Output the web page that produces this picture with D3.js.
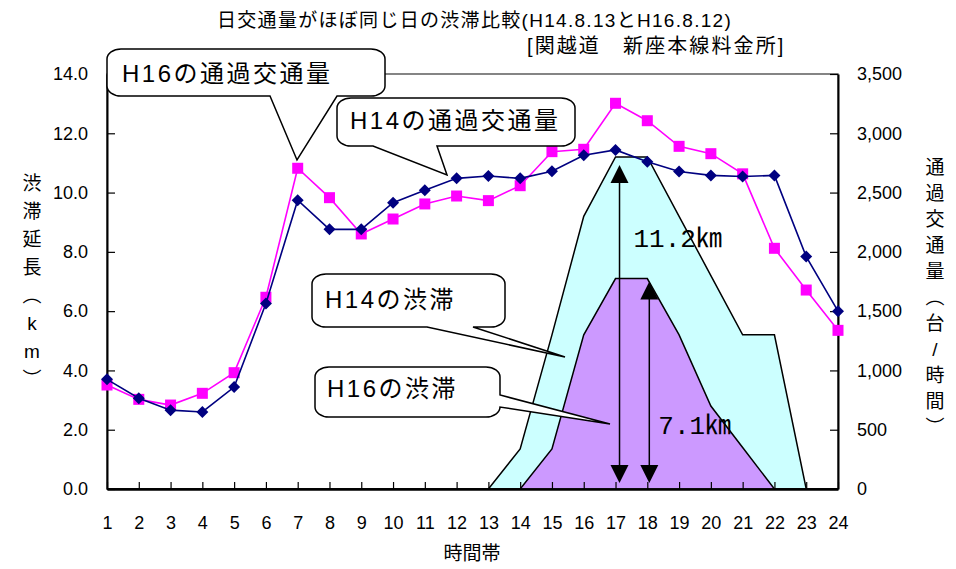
<!DOCTYPE html>
<html>
<head>
<meta charset="utf-8">
<style>
  body { margin: 0; background: #fff; }
  svg text { font-family: "Liberation Sans", Arial, "Noto Sans CJK JP", sans-serif; fill: #000; }
  .jp { font-family: "Liberation Sans", "Noto Sans CJK JP", sans-serif; }
  .axis text { font-size: 18px; }
  .axis line { stroke: #000; stroke-width: 1.2; }
  .axis path { stroke: #000; stroke-width: 2; }
</style>
</head>
<body>
<script src="https://cdn.jsdelivr.net/npm/d3@7/dist/d3.min.js"></script>
<script>
// hours of the day (category labels)
var hours = [1, 2, 3, 4, 5, 6, 7, 8, 9, 10, 11, 12, 13, 14, 15, 16, 17, 18, 19, 20, 21, 22, 23, 24];
// traffic volume (veh/h), right axis
var h14Traffic = [925, 765, 665, 650, 860, 1565, 2435, 2190, 2190, 2415, 2520, 2620,
                  2640, 2620, 2680, 2815, 2860, 2760, 2678, 2645, 2635, 2645, 1960, 1500];
var h16Traffic = [877, 756, 708, 807, 981, 1617, 2705, 2457, 2151, 2277, 2404, 2471,
                  2432, 2558, 2845, 2865, 3253, 3106, 2890, 2828, 2658, 2030, 1678, 1338];
// congestion length (km), left axis
var h14Jam = [0, 0, 0, 0, 0, 0, 0, 0, 0, 0, 0, 0, 0, 1.35, 5.2, 9.2, 11.2, 11.2, 9.2, 7.2, 5.2, 5.2, 0, 0];
var h16Jam = [0, 0, 0, 0, 0, 0, 0, 0, 0, 0, 0, 0, 0, 0, 1.35, 5.2, 7.1, 7.1, 5.2, 2.8, 1.4, 0, 0, 0];
var leftTicks = [0, 2, 4, 6, 8, 10, 12, 14];
var rightTicks = [0, 500, 1000, 1500, 2000, 2500, 3000, 3500];

var W = 956, H = 569;
var pLeft = 107, pRight = 838, pTop = 74, pBottom = 489;

var svg = d3.select("body").append("svg")
  .attr("width", W).attr("height", H);

var x = d3.scaleLinear().domain([1, 24]).range([pLeft, pRight]);
var yL = d3.scaleLinear().domain([0, 14]).range([pBottom, pTop]);
var yR = d3.scaleLinear().domain([0, 3500]).range([pBottom, pTop]);

// plot frame
svg.append("rect")
  .attr("x", pLeft).attr("y", pTop)
  .attr("width", pRight - pLeft).attr("height", pBottom - pTop)
  .style("fill", "none").style("stroke", "#444").style("stroke-width", 1.3);

// congestion areas
var area = d3.area()
  .x(function(d, i) { return x(hours[i]); })
  .y0(yL(0))
  .y1(function(d) { return yL(d); });

svg.append("path").datum(h14Jam)
  .attr("d", area)
  .style("fill", "#CCFFFF").style("stroke", "#000").style("stroke-width", 1.5);
svg.append("path").datum(h16Jam)
  .attr("d", area)
  .style("fill", "#CC99FF").style("stroke", "#000").style("stroke-width", 1.5);

// axes
var fmtL = d3.format(".1f"), fmtR = d3.format(",");
svg.append("g").attr("class", "axis")
  .attr("transform", "translate(" + pLeft + ",0)")
  .call(d3.axisLeft(yL).tickValues(leftTicks).tickFormat(fmtL)
    .tickSizeInner(-8).tickSizeOuter(0).tickPadding(19));
svg.append("g").attr("class", "axis")
  .attr("transform", "translate(" + pRight + ",0)")
  .call(d3.axisRight(yR).tickValues(rightTicks).tickFormat(fmtR)
    .tickSizeInner(-8).tickSizeOuter(0).tickPadding(19));
var xAxis = svg.append("g").attr("class", "axis")
  .attr("transform", "translate(0," + pBottom + ")")
  .call(d3.axisBottom(x).tickValues(hours).tickFormat(d3.format("d"))
    .tickSizeInner(-7).tickSizeOuter(0).tickPadding(27));
xAxis.select(".domain").style("stroke-width", 2.5);

// traffic lines
var lineR = d3.line()
  .x(function(d, i) { return x(hours[i]); })
  .y(function(d) { return yR(d); });

svg.append("path").datum(h16Traffic)
  .attr("d", lineR)
  .style("fill", "none").style("stroke", "#FF00FF").style("stroke-width", 1.6);
svg.selectAll("rect.h16")
  .data(h16Traffic).enter().append("rect")
  .attr("class", "h16")
  .attr("x", function(d, i) { return x(hours[i]) - 5.5; })
  .attr("y", function(d) { return yR(d) - 5.5; })
  .attr("width", 11).attr("height", 11)
  .style("fill", "#FF00FF");

svg.append("path").datum(h14Traffic)
  .attr("d", lineR)
  .style("fill", "none").style("stroke", "#000080").style("stroke-width", 1.6);
svg.selectAll("path.h14")
  .data(h14Traffic).enter().append("path")
  .attr("class", "h14")
  .attr("d", d3.symbol().type(d3.symbolSquare).size(72))
  .attr("transform", function(d, i) {
    return "translate(" + x(hours[i]) + "," + yR(d) + ") rotate(45)";
  })
  .style("fill", "#000080");

// double arrows for the peak congestion lengths
var peaks = [
  { hour: 17, km: h14Jam[16], dx: 4, topGap: 8, label: "11.2\u339E", lx: 18, ly: 240 },
  { hour: 18, km: h16Jam[17], dx: 2, topGap: 3, label: "7.1\u339E", lx: 11, ly: 427 }
];
peaks.forEach(function(p) {
  var ax = x(p.hour) + p.dx;
  var yt = yL(p.km) + p.topGap;
  var yb = yL(0) - 6;
  svg.append("line")
    .attr("x1", ax).attr("x2", ax).attr("y1", yt + 10).attr("y2", yb - 10)
    .style("stroke", "#000").style("stroke-width", 1.5);
  svg.append("path")
    .attr("d", "M" + ax + "," + yt + "L" + (ax + 9) + "," + (yt + 18) + "L" + (ax - 9) + "," + (yt + 18) + "Z")
    .style("fill", "#000");
  svg.append("path")
    .attr("d", "M" + ax + "," + yb + "L" + (ax + 9) + "," + (yb - 18) + "L" + (ax - 9) + "," + (yb - 18) + "Z")
    .style("fill", "#000");
  svg.append("text")
    .attr("x", x(p.hour) + p.lx).attr("y", p.ly)
    .attr("dominant-baseline", "central")
    .style("font-family", "'Liberation Mono', 'Noto Sans CJK JP', monospace")
    .style("font-size", "26px")
    .text(p.label);
});

// callout bubbles
function bubblePath(b) {
  var rx = 14, ry = 10;
  var x0 = b.x, y0 = b.y, x1 = b.x + b.w, y1 = b.y + b.h;
  var p = "M" + (x0 + rx) + "," + y0 + "H" + (x1 - rx) +
    "A" + rx + "," + ry + " 0 0 1 " + x1 + "," + (y0 + ry);
  if (b.side === "right") {
    p += "V" + b.base[0] + "L" + b.tip[0] + "," + b.tip[1] + "L" + x1 + "," + b.base[1];
  }
  p += "V" + (y1 - ry) + "A" + rx + "," + ry + " 0 0 1 " + (x1 - rx) + "," + y1;
  if (b.side === "bottom") {
    p += "H" + b.base[1] + "L" + b.tip[0] + "," + b.tip[1] + "L" + b.base[0] + "," + y1;
  }
  p += "H" + (x0 + rx) + "A" + rx + "," + ry + " 0 0 1 " + x0 + "," + (y1 - ry) +
    "V" + (y0 + ry) + "A" + rx + "," + ry + " 0 0 1 " + (x0 + rx) + "," + y0 + "Z";
  return p;
}

var bubbles = [
  { text: "H16の通過交通量", x: 107, y: 49, w: 278, h: 47, side: "bottom", base: [270, 337], tip: [297, 160], tx: 122, ty: 73 },
  { text: "H14の通過交通量", x: 337, y: 98, w: 238, h: 48, side: "bottom", base: [373, 437], tip: [447, 175], tx: 350, ty: 120 },
  { text: "H14の渋滞", x: 312, y: 274, w: 193, h: 53, side: "bottom", base: [427, 473], tip: [565, 357], tx: 325, ty: 299 },
  { text: "H16の渋滞", x: 315, y: 367, w: 185, h: 50, side: "right", base: [395, 407], tip: [610, 424], tx: 327, ty: 388 }
];
bubbles.forEach(function(b) {
  svg.append("path")
    .attr("d", bubblePath(b))
    .style("fill", "#fff").style("stroke", "#000").style("stroke-width", 1.5);
  svg.append("text")
    .attr("class", "jp")
    .attr("x", b.tx).attr("y", b.ty)
    .attr("dominant-baseline", "central")
    .style("font-size", "24px").style("letter-spacing", "2.5px")
    .text(b.text);
});

// titles
svg.append("text").attr("class", "jp")
  .attr("x", 217).attr("y", 27)
  .style("font-size", "19px").style("letter-spacing", "1.3px")
  .text("日交通量がほぼ同じ日の渋滞比較(H14.8.13とH16.8.12)");
svg.append("text").attr("class", "jp")
  .attr("x", 527).attr("y", 53)
  .style("font-size", "20px").style("letter-spacing", "2.1px")
  .text("[関越道　新座本線料金所]");

svg.append("text").attr("class", "jp")
  .attr("x", 472).attr("y", 553)
  .attr("text-anchor", "middle").attr("dominant-baseline", "central")
  .style("font-size", "19px")
  .text("時間帯");

// vertical axis titles
var leftTitle = ["渋", "滞", "延", "長", "︵", "k", "m", "︶"];
var rightTitle = ["通", "過", "交", "通", "量", "︵", "台", "/", "時", "間", "︶"];
svg.selectAll("text.lt").data(leftTitle).enter().append("text")
  .attr("class", "jp lt")
  .attr("x", 32).attr("y", function(d, i) { return 183 + i * 28; })
  .attr("text-anchor", "middle").attr("dominant-baseline", "central")
  .style("font-size", "19px")
  .text(function(d) { return d; });
svg.selectAll("text.rt").data(rightTitle).enter().append("text")
  .attr("class", "jp rt")
  .attr("x", 935).attr("y", function(d, i) { return 167 + i * 26; })
  .attr("text-anchor", "middle").attr("dominant-baseline", "central")
  .style("font-size", "19px")
  .text(function(d) { return d; });
</script>
</body>
</html>
